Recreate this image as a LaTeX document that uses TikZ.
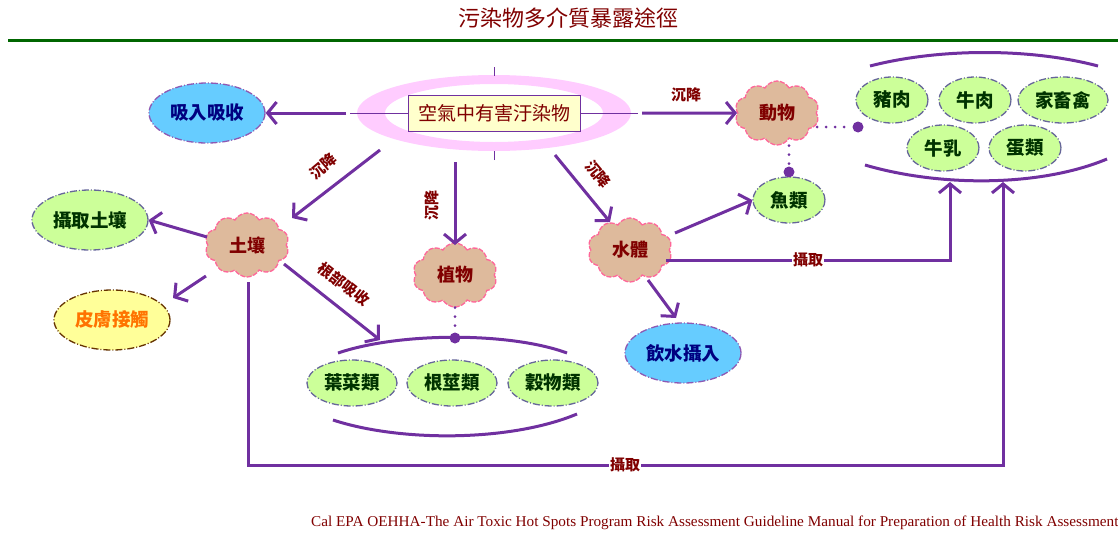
\documentclass[tikz,border=0pt]{standalone}
\usepackage{fontspec}
\usepackage{graphicx}
\usetikzlibrary{shapes.geometric,shapes.symbols,arrows.meta}
\setmainfont{Liberation Serif}
\newfontfamily\cjk{Noto Sans CJK TC}
\definecolor{pur}{HTML}{7030A0}
\definecolor{dred}{HTML}{800000}
\definecolor{dgreen}{HTML}{006600}
\definecolor{tgreen}{HTML}{003300}
\definecolor{navy}{HTML}{000080}
\definecolor{lblue}{HTML}{66CCFF}
\definecolor{lgreen}{HTML}{CCFF99}
\definecolor{lyel}{HTML}{FFFF99}
\definecolor{boxyel}{HTML}{FFFFCC}
\definecolor{tan}{HTML}{DEBA9C}
\definecolor{pinkb}{HTML}{FF6699}
\definecolor{ringpink}{HTML}{FFCCFF}
\definecolor{ovb}{HTML}{666699}
\definecolor{brn}{HTML}{663300}
\begin{document}
\begin{tikzpicture}[x=1pt,y=-1pt,
  arr/.style={draw=pur,line width=3pt,-{Straight Barb[length=9pt,width=22pt,line width=3pt]}},
  plainln/.style={draw=pur,line width=3pt},
  cloudn/.style={cloud,cloud puffs=10,cloud puff arc=120,aspect=1.35,minimum width=84pt,minimum height=64pt,
     fill=tan,draw=pinkb,line width=1.3pt,dash pattern=on 5pt off 1.5pt,inner sep=0pt,
     font=\cjk\bfseries\fontsize{18}{18}\selectfont,text=dred},
  oval/.style={ellipse,inner sep=0pt,line width=1.3pt,dash pattern=on 7pt off 2pt on 1pt off 2pt,
     font=\cjk\bfseries\fontsize{18.5}{18.5}\selectfont},
  ovg/.style={oval,fill=lgreen,draw=ovb,text=tgreen,minimum width=72pt,minimum height=46pt},
  ovb2/.style={oval,fill=lblue,draw=pur!80,text=navy,minimum width=116pt,minimum height=60pt},
  lbl/.style={font=\cjk\bfseries\fontsize{15}{15}\selectfont,text=dred,inner sep=0pt},
  dotln/.style={draw=pur,line width=3pt,line cap=round,dash pattern=on 0pt off 9pt},
  bigdot/.style={circle,fill=pur,inner sep=0pt,minimum size=11pt}
]
\useasboundingbox (0,0) rectangle (1118,544);
% title
\node[font=\cjk\fontsize{22}{22}\selectfont,text=dred] (title) at (568,18) {污染物多介質暴露途徑};
\draw[dgreen,line width=3pt] (8,40) -- (1118,40);
% center ring
\fill[ringpink,even odd rule] (494,113) ellipse [x radius=137,y radius=38] (494,113) ellipse [x radius=109,y radius=29];
\coordinate (cl) at (350,113);
\coordinate (cr) at (638,113);
\coordinate (ct) at (494,67);
\coordinate (cb) at (494,160);
\draw[pur,line width=0.8pt] (cl) -- (cr);
\draw[pur,line width=0.8pt] (ct) -- ++(0,9);
\draw[pur,line width=0.8pt] (cb) -- ++(0,-9);
\node[draw=pur,line width=0.8pt,fill=boxyel,minimum width=172pt,minimum height=36pt,inner sep=0pt,
  font=\cjk\fontsize{19}{19}\selectfont,text=dred] (air) at (494,113) {空氣中有害汙染物};
% nodes
\node[ovb2] (inh) at (207,113) {吸入吸收};
\node[cloudn] (ani) at (777,113) {動物};
\node[ovg] (fish) at (789,200) {魚類};
\node[cloudn] (soil) at (247,245) {土壤};
\node[cloudn] (plant) at (455,275) {植物};
\node[cloudn] (water) at (630,250) {水體};
\node[ovg,minimum width=116pt,minimum height=60pt] (esoil) at (90,220) {攝取土壤};
\node[oval,fill=lyel,draw=brn,text=orange!90!red,minimum width=116pt,minimum height=60pt] (skin) at (112,320) {皮膚接觸};
\node[ovb2] (drink) at (683,353) {飲水攝入};
\node[ovg,minimum width=90pt] (v1) at (352,383) {葉菜類};
\node[ovg,minimum width=90pt] (v2) at (452,383) {根莖類};
\node[ovg,minimum width=90pt] (v3) at (553,383) {穀物類};
\node[ovg] (m1) at (892,100) {豬肉};
\node[ovg] (m2) at (975,100) {牛肉};
\node[ovg,minimum width=90pt] (m3) at (1063,100) {家畜禽};
\node[ovg] (m4) at (943,148) {牛乳};
\node[ovg] (m5) at (1025,148) {蛋類};
% group brackets
\coordinate (vtl) at (338,353); \coordinate (vtr) at (567,353);
\coordinate (vbl) at (333,420); \coordinate (vbr) at (577,414);
\draw[plainln] (vtl) .. controls (400,332) and (510,332) .. (vtr);
\draw[plainln] (vbl) .. controls (400,442) and (510,442) .. (vbr);
\coordinate (mtl) at (870,66); \coordinate (mtr) at (1098,66);
\coordinate (mbl) at (865,165); \coordinate (mbr) at (1107,159);
\draw[plainln] (mtl) .. controls (940,48) and (1030,48) .. (mtr);
\draw[plainln] (mbl) .. controls (940,187) and (1040,187) .. (mbr);
% dots
\node[bigdot] (vdot) at (455,338) {};
\node[bigdot] (mdot) at (858,127) {};
\node[bigdot] (fdot) at (789,172) {};
\draw[dotln] (plant.south) -- (vdot);
\draw[dotln] (ani.east |- mdot) -- (mdot);
\draw[dotln] (ani.south -| fdot) -- (fdot);
% arrows
\coordinate (a1) at (346,113);
\draw[arr] (a1) -- (inh.east);
\coordinate (a2) at (642,113);
\draw[arr] (a2) -- (ani.west);
\node[lbl] (l1) at (686,95) {沉降};
\coordinate (a3) at (380,150);
\draw[arr] (a3) -- (292,218) coordinate (a3e);
\node[lbl,rotate=40] (l2) at (323,166) {沉降};
\coordinate (a4) at (455,162);
\draw[arr] (a4) -- (455,245) coordinate (a4e);
\node[lbl,rotate=90] (l3) at (432,205) {沉降};
\coordinate (a5) at (555,155);
\draw[arr] (a5) -- (610,222) coordinate (a5e);
\node[lbl,rotate=-50] (l4) at (598,174) {沉降};
\draw[arr] (soil.west) ++(0,-8) -- (esoil.east);
\coordinate (s2) at (206,276);
\draw[arr] (s2) -- (173,298);
\coordinate (s3) at (284,264);
\draw[arr] (s3) -- (380,340);
\node[lbl,rotate=-38] (l5) at (344,284) {根部吸收};
\coordinate (w1) at (675,233);
\draw[arr] (w1) -- (fish.west);
\coordinate (w2) at (648,280);
\draw[arr] (w2) -- (676,318);
\coordinate (w3) at (666,260);
\coordinate (mu1) at (950,182);
\draw[arr] (w3) -- (mu1 |- w3) -- (mu1);
\node[lbl,fill=white,inner sep=1pt] (l6) at (808,260) {攝取};
\coordinate (s4) at (248,282);
\coordinate (mu2) at (1003,182);
\draw[arr] (s4) -- (248,465) -- (mu2 |- 0,465) -- (mu2);
\node[lbl,fill=white,inner sep=1pt] (l7) at (625,465) {攝取};
% citation
\node[anchor=west,text=dred,inner sep=0pt,font=\fontsize{15}{15}\selectfont] (cite) at (311,523)
  {\scalebox{1.016}[1]{Cal EPA OEHHA-The Air Toxic Hot Spots Program Risk Assessment Guideline Manual for Preparation of Health Risk Assessment}};
\end{tikzpicture}
\end{document}
